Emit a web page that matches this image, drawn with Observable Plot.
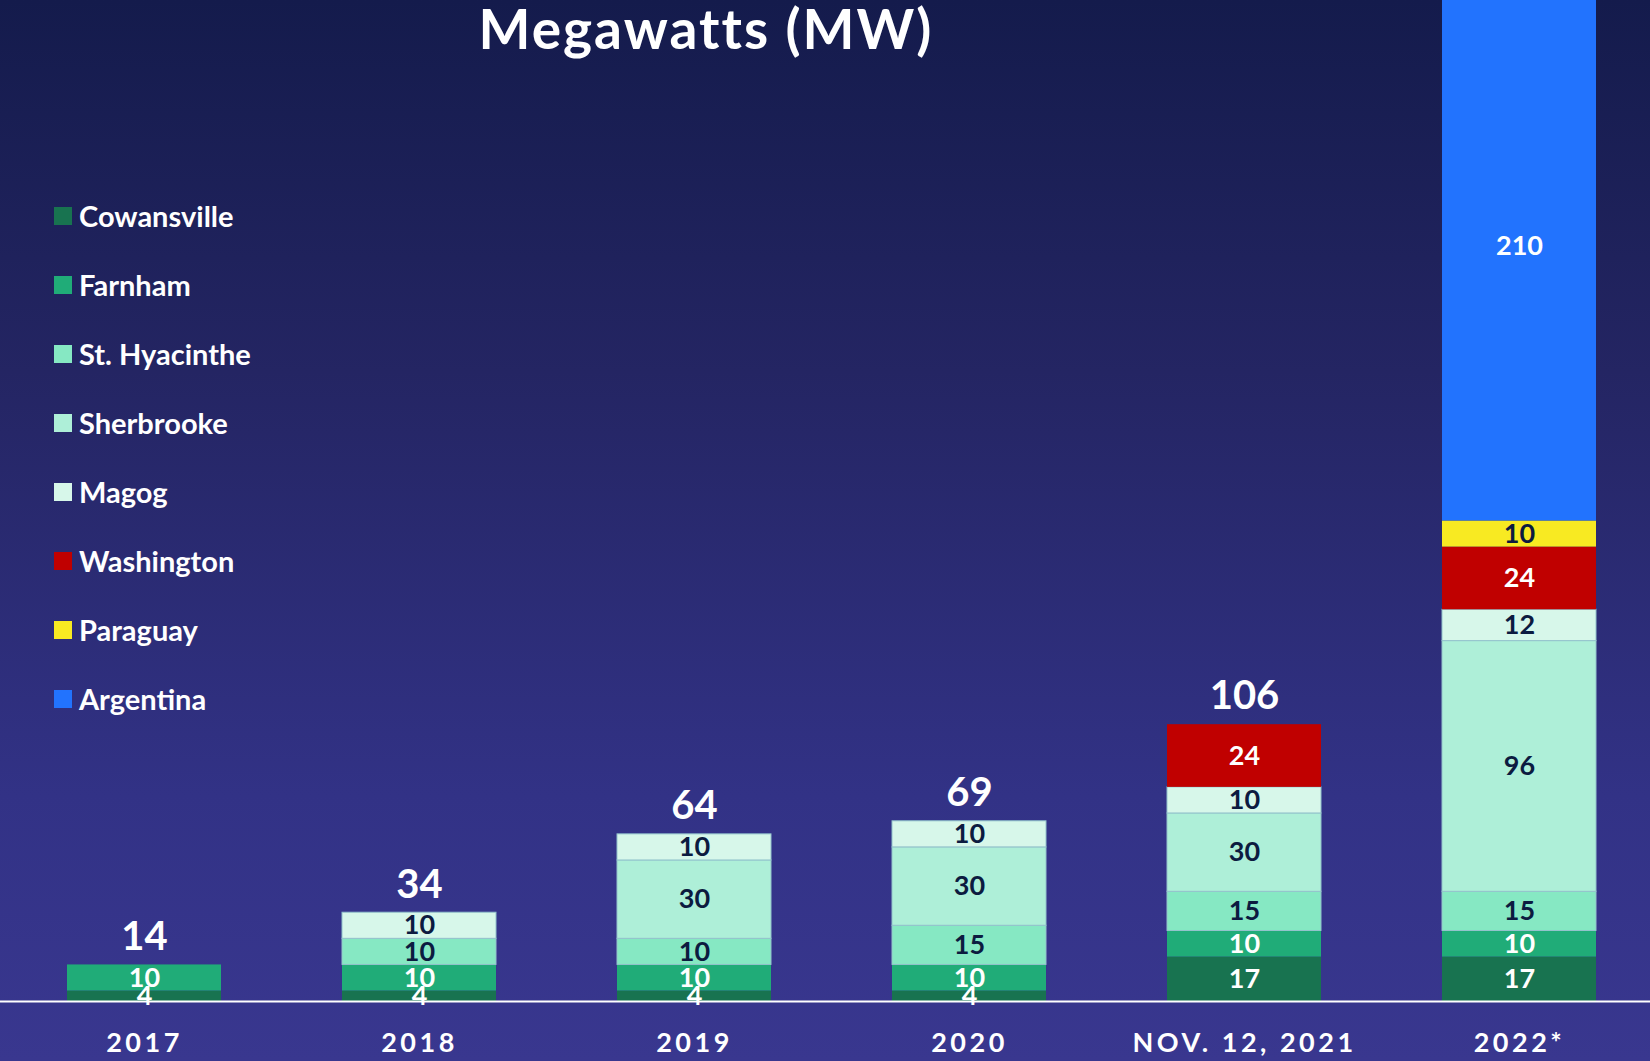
<!DOCTYPE html>
<html>
<head>
<meta charset="utf-8">
<script src="https://cdn.jsdelivr.net/npm/d3@7"></script>
<script src="https://cdn.jsdelivr.net/npm/@observablehq/plot@0.6"></script>
<style>
  html, body { margin: 0; padding: 0; }
  body { width: 1650px; height: 1061px; overflow: hidden; font-family: Lato, "Open Sans", sans-serif; }
  #wrap { position: relative; width: 1650px; height: 1061px;
          background: linear-gradient(to bottom, #141b4c 0%, #242563 35%, #323286 75%, #39378f 100%); }
  #title { position: absolute; left: 0; width: 1412px; top: 0px; text-align: center;
           color: white; font-weight: 700; font-size: 55px; line-height: 56px; letter-spacing: 2px; white-space: nowrap; }
  .item { position: absolute; left: 54px; height: 18px; display: flex; align-items: center; }
  .sw { width: 18px; height: 18px; flex: none; }
  .lab { margin-left: 7px; color: white; font-weight: 700; font-size: 29px; line-height: 18px; white-space: nowrap; }
  .mw g[aria-label="x-axis tick label"] text { letter-spacing: 3.5px; }
</style>
</head>
<body>
<div id="wrap">
  <div id="chart"></div>
  <div id="title">Megawatts (MW)</div>
  <div id="legend"></div>
</div>
<script>
// ---- data ----
const years = ["2017", "2018", "2019", "2020", "NOV. 12, 2021", "2022*"];
const seriesNames = ["Cowansville", "Farnham", "St. Hyacinthe", "Sherbrooke", "Magog", "Washington", "Paraguay", "Argentina"];
const cowansville  = [4, 4, 4, 4, 17, 17];
const farnham      = [10, 10, 10, 10, 10, 10];
const stHyacinthe  = [0, 10, 10, 15, 15, 15];
const sherbrooke   = [0, 0, 30, 30, 30, 96];
const magog        = [0, 10, 10, 10, 10, 12];
const washington   = [0, 0, 0, 0, 24, 24];
const paraguay     = [0, 0, 0, 0, 0, 10];
const argentina    = [0, 0, 0, 0, 0, 210];
const seriesColors = ["#187350", "#20ac78", "#86e8c3", "#aeefd8", "#d7f7ea", "#c00000", "#f8ea22", "#2273fe"];
const labelColors  = ["#ffffff", "#ffffff", "#0c1b40", "#0c1b40", "#0c1b40", "#ffffff", "#0c1b40", "#ffffff"];
const outlined     = ["St. Hyacinthe", "Sherbrooke", "Magog"];
const yTop = 383.3; // visible top of the value axis (the 2022 bar runs off the top)

const seriesValues = [cowansville, farnham, stHyacinthe, sherbrooke, magog, washington, paraguay, argentina];
const rows = [];
seriesNames.forEach((s, si) => {
  seriesValues[si].forEach((v, i) => {
    if (v > 0) rows.push({year: years[i], series: s, value: v});
  });
});
const fillOf = d => seriesColors[seriesNames.indexOf(d.series)];
const textOf = d => labelColors[seriesNames.indexOf(d.series)];
// totals that fall inside the visible area are labelled
const totals = d3.rollup(rows, v => d3.sum(v, d => d.value), d => d.year);
const labelledRows = rows.filter(d => totals.get(d.year) < yTop);

const chart = Plot.plot({
  width: 1650,
  height: 1061,
  marginTop: 0,
  marginBottom: 60,
  marginLeft: 0,
  marginRight: 0,
  className: "mw",
  style: {background: "transparent", fontFamily: "Lato, 'Open Sans', sans-serif", color: "white", overflow: "hidden"},
  x: {domain: years, range: [65, 1598], paddingInner: 0.44, paddingOuter: 0, label: null},
  y: {domain: [0, yTop], axis: null},
  color: {type: "identity"},
  marks: [
    Plot.barY(rows, Plot.stackY({
      x: "year", y: "value", fill: fillOf,
      stroke: d => outlined.includes(d.series) ? "#93c3cc" : "none", strokeWidth: 1
    })),
    Plot.text(rows, Plot.stackY({
      x: "year", y: "value", text: d => String(d.value), fill: textOf,
      fontSize: 27, fontWeight: 700
    })),
    Plot.text(labelledRows, Plot.groupX({y: "sum", text: "sum"}, {
      x: "year", y: "value", text: "value", fill: "white", fontSize: 40, fontWeight: 700,
      lineAnchor: "middle", dy: -28
    })),
    Plot.ruleY([0], {stroke: "white", strokeWidth: 2}),
    Plot.axisX({tickSize: 0, tickPadding: 31, fontSize: 27, fontWeight: 700, fill: "white", label: null})
  ]
});
document.getElementById("chart").appendChild(chart);

// ---- legend ----
const legend = document.getElementById("legend");
seriesNames.forEach((s, i) => {
  const item = document.createElement("div");
  item.className = "item";
  item.style.top = (207 + 69 * i) + "px";
  const sw = document.createElement("div");
  sw.className = "sw";
  sw.style.background = seriesColors[i];
  const lab = document.createElement("div");
  lab.className = "lab";
  lab.textContent = s;
  item.appendChild(sw);
  item.appendChild(lab);
  legend.appendChild(item);
});
</script>
</body>
</html>
